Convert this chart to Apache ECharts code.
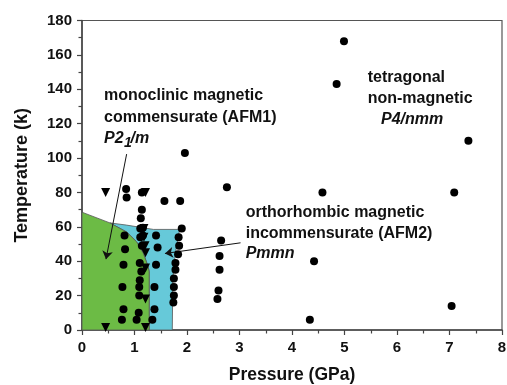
<!DOCTYPE html>
<html>
<head>
<meta charset="utf-8">
<script src="https://cdn.jsdelivr.net/npm/echarts@6/dist/echarts.min.js"></script>
<style>
  html, body { margin: 0; padding: 0; background: #fff; }
  #chart { width: 507px; height: 385px; }
</style>
</head>
<body>
<div id="chart"></div>
<script>
// measured points: [pressure GPa, temperature K]
const circlePoints = [
  [4.99, 168], [4.85, 143], [7.36, 110], [1.96, 103], [2.76, 83], [4.58, 80], [7.09, 80],
  [4.42, 40], [4.34, 6], [7.04, 14],
  [2.65, 52], [2.62, 43], [2.62, 35], [2.60, 23], [2.58, 18],
  [0.84, 82], [0.85, 77], [1.57, 75], [1.87, 75],
  [1.90, 59], [1.84, 54], [1.85, 49], [1.83, 44], [1.78, 39], [1.78, 35],
  [1.75, 30], [1.75, 25], [1.75, 20], [1.74, 16],
  [1.41, 55], [1.44, 48], [1.41, 38], [1.38, 25], [1.38, 12], [1.34, 6],
  [0.81, 55], [0.82, 47], [0.79, 38], [0.77, 25], [0.79, 12], [0.76, 6],
  [1.14, 80], [1.14, 70], [1.12, 65], [1.11, 59], [1.16, 59.5], [1.11, 54], [1.16, 55],
  [1.14, 49], [1.10, 39], [1.13, 34], [1.10, 29], [1.09, 25], [1.09, 20], [1.08, 10], [1.04, 6]
];
const trianglePoints = [
  [0.45, 80], [1.21, 80], [1.18, 59], [1.18, 54], [1.20, 49], [1.21, 45],
  [1.21, 36], [1.21, 18], [0.45, 1.5], [1.21, 1.5]
];

// phase regions
const afm1Region = [
  [0, 68.5], [0.53, 62.3], [0.85, 57], [1.04, 51.3], [1.17, 44.5], [1.26, 36.8],
  [1.28, 33.9], [1.28, 0], [0, 0]
];
const afm2Region = [
  [0.53, 62.3], [0.85, 61], [1.36, 58.5], [1.86, 58.5], [1.78, 45], [1.73, 30],
  [1.72, 0], [1.28, 0], [1.28, 33.9], [1.26, 36.8], [1.17, 44.5], [1.04, 51.3], [0.85, 57]
];

// annotation arrows: [start, end]
const arrowAFM1 = [[0.85, 102.3], [0.457, 41.2]];
const arrowAFM2 = [[3.02, 50.7], [1.58, 44.5]];

const xTicks = { min: 0, max: 8, interval: 1 };
const yTicks = { min: 0, max: 180, interval: 20 };

const FONT = 'Liberation Sans, Arial, sans-serif';
const chart = echarts.init(document.getElementById('chart'));

function regionSeries(points, color) {
  return {
    type: 'custom',
    silent: true,
    data: [points[0]],
    renderItem: (params, api) => ({
      type: 'polygon',
      shape: { points: points.map(p => api.coord(p)) },
      style: { fill: color, stroke: '#555', lineWidth: 0.8 }
    }),
    z: 1
  };
}

function label(text, left, y, opts) {
  return {
    type: 'text', left: left, top: y - 9,
    style: Object.assign({
      text: text, fill: '#111',
      font: 'bold 16px ' + FONT
    }, opts || {})
  };
}

const axisColor = '#444';

const option = {
  animation: false,
  backgroundColor: '#fff',
  grid: {
    left: 82, right: 5, top: 20.5, bottom: 55, outerBoundsMode: 'none', containLabel: false,
    show: true, borderColor: '#555', borderWidth: 1.2
  },
  xAxis: {
    type: 'value', min: xTicks.min, max: xTicks.max, interval: xTicks.interval,
    name: 'Pressure (GPa)', nameLocation: 'middle', nameGap: 36,
    nameTextStyle: { fontFamily: FONT, fontWeight: 'bold', fontSize: 17.5, color: '#111' },
    axisLine: { lineStyle: { color: axisColor, width: 1.5 } },
    axisTick: { length: 5, lineStyle: { color: axisColor, width: 1.2 } },
    minorTick: { show: true, splitNumber: 2, length: 3.5, lineStyle: { color: axisColor, width: 1.2 } },
    splitLine: { show: false },
    axisLabel: { margin: 10, fontFamily: FONT, fontWeight: 'bold', fontSize: 15, color: '#111' }
  },
  yAxis: {
    type: 'value', min: yTicks.min, max: yTicks.max, interval: yTicks.interval,
    name: 'Temperature (k)', nameLocation: 'middle', nameGap: 51,
    nameTextStyle: { fontFamily: FONT, fontWeight: 'bold', fontSize: 18, color: '#111' },
    axisLine: { show: true, lineStyle: { color: axisColor, width: 1.5 } },
    axisTick: { show: true, length: 5, lineStyle: { color: axisColor, width: 1.2 } },
    minorTick: { show: true, splitNumber: 2, length: 3.5, lineStyle: { color: axisColor, width: 1.2 } },
    splitLine: { show: false },
    axisLabel: { margin: 10, fontFamily: FONT, fontWeight: 'bold', fontSize: 15, color: '#111' }
  },
  series: [
    regionSeries(afm2Region, '#66c9d9'),
    regionSeries(afm1Region, '#6cbb45'),
    {
      type: 'lines', coordinateSystem: 'cartesian2d', silent: true,
      symbol: ['none', 'arrow'], symbolSize: 8,
      lineStyle: { color: '#111', width: 1, opacity: 1 },
      data: [{ coords: arrowAFM1 }, { coords: arrowAFM2 }],
      z: 3
    },
    {
      type: 'scatter', data: circlePoints, symbol: 'circle', symbolSize: 8,
      itemStyle: { color: '#000', opacity: 1 }, z: 4
    },
    {
      type: 'scatter', data: trianglePoints, symbol: 'triangle', symbolRotate: 180, symbolSize: 9,
      itemStyle: { color: '#000', opacity: 1 }, z: 4
    }
  ],
  graphic: [
    label('monoclinic magnetic', 104, 97),
    label('commensurate (AFM1)', 104, 119),
    label('P2', 104, 140, { font: 'italic bold 16px ' + FONT }),
    label('1', 124, 145, { font: 'italic bold 14px ' + FONT }),
    label('/m', 130.5, 140, { font: 'italic bold 16px ' + FONT }),
    label('tetragonal', 367.7, 79),
    label('non-magnetic', 367.7, 100),
    label('P4/nmm', 381, 120.5, { font: 'italic bold 16px ' + FONT }),
    label('orthorhombic magnetic', 245.7, 214),
    label('incommensurate (AFM2)', 245.7, 235),
    label('Pmmn', 245.7, 255, { font: 'italic bold 16px ' + FONT })
  ]
};

chart.setOption(option);
</script>
</body>
</html>
